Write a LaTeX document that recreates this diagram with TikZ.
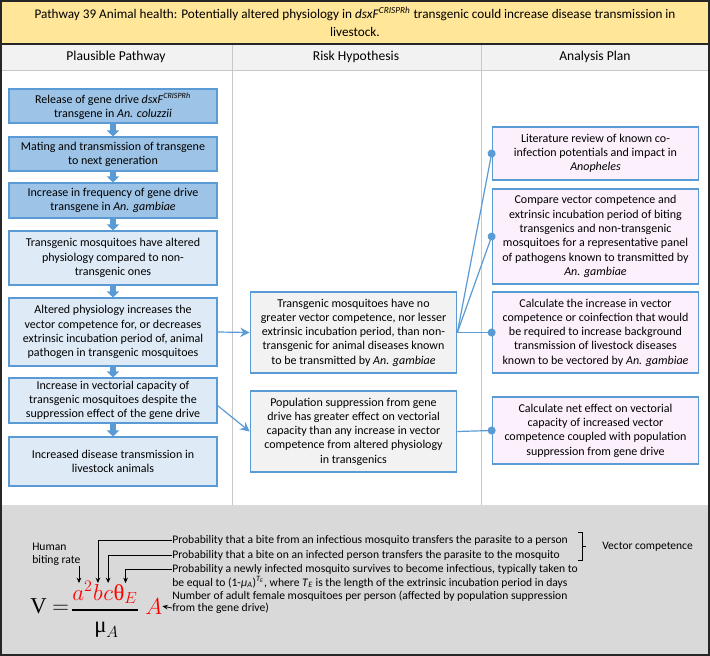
\documentclass[tikz,border=0pt]{standalone}
\usepackage{fontspec}
\setmainfont{Carlito}
\newfontfamily\uprightgreek{Liberation Serif}
\usetikzlibrary{arrows.meta,calc}

\definecolor{titleyellow}{HTML}{FFE699}
\definecolor{headgray}{HTML}{F2F2F2}
\definecolor{panelgray}{HTML}{D9D9D9}
\definecolor{stepblue}{HTML}{9DC3E6}
\definecolor{lightblue}{HTML}{DEEBF7}
\definecolor{edgeblue}{HTML}{5B9BD5}
\definecolor{planpink}{HTML}{FCF0FC}
\definecolor{framedark}{HTML}{262626}
\definecolor{rulegray}{HTML}{C8C8C8}

\newcommand{\titlefont}{\fontsize{9.9}{13.5}\selectfont}
\newcommand{\headfont}{\fontsize{10.2}{12}\selectfont}
\newcommand{\pathfont}{\fontsize{9}{10.7}\selectfont}
\newcommand{\notefont}{\fontsize{8.7}{10}\selectfont}
\newcommand{\formfont}{\fontsize{17}{20}\selectfont}

\begin{document}
\begin{tikzpicture}[x=0.75pt,y=-0.75pt,
  pathbox/.style={draw=edgeblue, line width=0.8pt, align=center, font=\pathfont,
    minimum width=156pt, inner sep=2pt},
  drivebox/.style={pathbox, fill=stepblue},
  physbox/.style={pathbox, fill=lightblue},
  riskbox/.style={pathbox, fill=headgray, minimum width=155pt},
  planbox/.style={pathbox, fill=planpink, minimum width=155pt},
  flow/.style={edgeblue, line width=4pt, -{Triangle[width=9pt,length=4.5pt]}},
  link/.style={edgeblue, line width=0.9pt, -{Stealth[length=7pt,width=7pt]}},
  planlink/.style={edgeblue, line width=0.9pt, -{Circle[length=6pt]}, shorten >=-3pt},
  note/.style={font=\notefont, inner sep=0pt, anchor=west},
  pointer/.style={line width=0.6pt, -{Stealth[length=4pt,width=3.5pt]}},
  redsym/.style={red, font=\formfont, inner sep=0pt, anchor=base west}]
  \useasboundingbox (0,0) rectangle (710,656);

  % Frame, title and column heads
  \fill[white] (0,0) rectangle (710,656);
  \fill[titleyellow] (1,1) rectangle (709,44);
  \fill[headgray] (1,44) rectangle (709,70);
  \draw[rulegray] (1,70) -- (709,70);
  \draw[rulegray] (232,44) -- (232,505);
  \draw[rulegray] (481,44) -- (481,505);
  \fill[panelgray] (1,505) rectangle (709,655);
  \draw[framedark, line width=0.9pt] (1,44) -- (709,44);
  \draw[framedark, line width=1.2pt] (1,1) rectangle (709,655);

  \node[font=\titlefont, align=center] (title) at (355,22)
    {Pathway 39 Animal health: Potentially altered physiology in \textit{dsxF}\textsuperscript{\textit{CRISPRh}} transgenic could increase disease transmission in\\livestock.};
  \node[font=\headfont] (hpath) at (116,57) {Plausible Pathway};
  \node[font=\headfont] (hrisk) at (356,57) {Risk Hypothesis};
  \node[font=\headfont] (hplan) at (595,57) {Analysis Plan};

  % Plausible pathway
  \node[drivebox, minimum height=25.5pt] (b1) at (113,106)
    {Release of gene drive \textit{dsxF}\textsuperscript{\textit{CRISPRh}}\\transgene in \textit{An. coluzzii}};
  \node[drivebox, minimum height=25.5pt] (b2) at (113,154)
    {Mating and transmission of transgene\\to next generation};
  \node[drivebox, minimum height=26.25pt] (b3) at (113,200.5)
    {Increase in frequency of gene drive\\transgene in \textit{An. gambiae}};
  \node[physbox, minimum height=40.5pt] (b4) at (113,258)
    {Transgenic mosquitoes have altered\\physiology compared to non-\\transgenic ones};
  \node[physbox, minimum height=51pt] (b5) at (113,332)
    {Altered physiology increases the\\vector competence for, or decreases\\extrinsic incubation period of, animal\\pathogen in transgenic mosquitoes};
  \node[physbox, minimum height=33.75pt] (b6) at (113,400.5)
    {Increase in vectorial capacity of\\transgenic mosquitoes despite the\\suppression effect of the gene drive};
  \node[physbox, minimum height=36.75pt] (b7) at (113,461.5)
    {Increased disease transmission in\\livestock animals};

  \foreach \a/\b in {b1/b2, b2/b3, b3/b4, b4/b5, b5/b6, b6/b7}
    \draw[flow] (\a.south) -- (\b.north);

  % Risk hypotheses
  \node[riskbox, minimum height=60.75pt] (m1) at (353.5,332.5)
    {Transgenic mosquitoes have no\\greater vector competence, nor lesser\\extrinsic incubation period, than non-\\transgenic for animal diseases known\\to be transmitted by \textit{An. gambiae}};
  \node[riskbox, minimum height=60.75pt] (m2) at (353.5,431.5)
    {Population suppression from gene\\drive has greater effect on vectorial\\capacity than any increase in vector\\competence from altered physiology\\in transgenics};

  \draw[link] (b5.east) -- (m1.west);
  \draw[link] ($(b6.east)+(0,5)$) -- (m2.west);

  % Analysis plan
  \node[planbox, minimum height=39.75pt] (r1) at (595.5,153.5)
    {Literature review of known co-\\infection potentials and impact in\\\textit{Anopheles}};
  \node[planbox, minimum height=71.25pt] (r2) at (595.5,236.5)
    {Compare vector competence and\\extrinsic incubation period of biting\\transgenics and non-transgenic\\mosquitoes for a representative panel\\of pathogens known to transmitted by\\\textit{An. gambiae}};
  \node[planbox, minimum height=60.75pt] (r3) at (595.5,332.5)
    {Calculate the increase in vector\\competence or coinfection that would\\be required to increase background\\transmission of livestock diseases\\known to be vectored by \textit{An. gambiae}};
  \node[planbox, minimum height=50.25pt] (r4) at (595.5,430.5)
    {Calculate net effect on vectorial\\capacity of increased vector\\competence coupled with population\\suppression from gene drive};

  \foreach \r in {r1, r2, r3}
    \draw[planlink] (m1.east) -- (\r.west);
  \draw[planlink] (m2.east) -- (r4.west);

  % Vectorial capacity formula
  \node[font=\formfont, inner sep=0pt, anchor=base west] (veq) at (30,613)
    {\uprightgreek V $=$};
  \node[redsym] (na) at (72,600) {$a^2$};
  \node[redsym] (nb) at (na.base east) {$b$};
  \node[redsym] (nc) at (nb.base east) {$c$};
  \node[redsym] (nth) at (nc.base east) {$\mbox{\uprightgreek θ}_E$};
  \node[font=\formfont, inner sep=0pt, anchor=base west] (nmu) at (94,632)
    {$\mbox{\uprightgreek μ}_A$};
  \node[redsym] (nA) at (145,614) {$A$};
  \coordinate (barl) at (72,610);
  \draw[line width=0.8pt] (barl) -- (barl -| nth.east);

  % Notes
  \coordinate (tip) at (0,583);
  \coordinate (ha) at (79,583);
  \node[note, align=left] (hb) at (32,554) {Human\\biting rate};
  \node[note] (p1) at (172,540) {Probability that a bite from an infectious mosquito transfers the parasite to a person};
  \node[note] (p2) at (172,555) {Probability that a bite on an infected person transfers the parasite to the mosquito};
  \node[note] (p3) at (172,569) {Probability a newly infected mosquito survives to become infectious, typically taken to};
  \node[note] (p3b) at (172,582.5) {be equal to (1-\textit{μ}\textsubscript{\textit{A}})\textsuperscript{\textit{T\textsubscript{E}}}, where \textit{T}\textsubscript{\textit{E}} is the length of the extrinsic incubation period in days};
  \node[note] (p4) at (172,596) {Number of adult female mosquitoes per person (affected by population suppression};
  \node[note] (p4b) at (172,608) {from the gene drive)};
  \node[note, font=\fontsize{8.6}{10}\selectfont] (vc) at (602,547) {Vector competence};

  \draw[pointer] (hb.south -| ha) -- (ha);
  \draw[pointer] (p1.west) -| (nb.north |- tip);
  \draw[pointer] (p2.west) -| (nc.north |- tip);
  \draw[pointer] (p3.west) -| (nth.north |- tip);
  \draw[pointer] (p4b.west) -- (nA.east);

  \draw[line width=0.6pt] (578,532) -- (582,532) -- (582,560) -- (578,560);
  \draw[line width=0.6pt] (582,546) -- (586,546);
\end{tikzpicture}
\end{document}
